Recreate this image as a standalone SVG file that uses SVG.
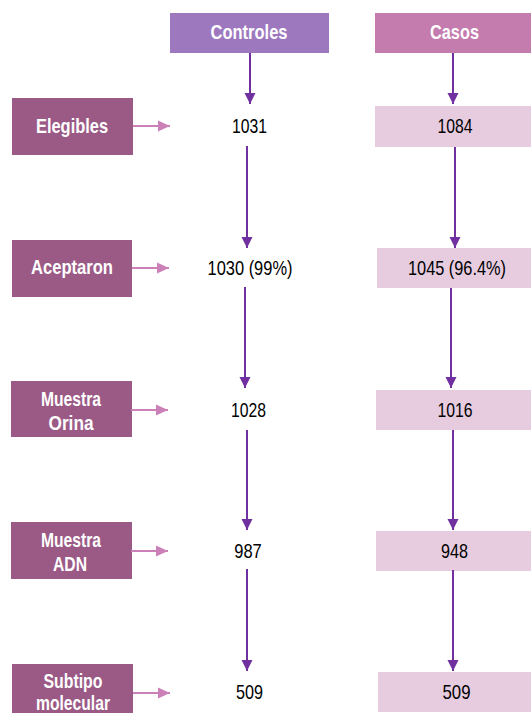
<svg xmlns="http://www.w3.org/2000/svg" width="531" height="713" viewBox="0 0 531 713">
<style>
.hc{fill:#9d78bf}.hp{fill:#c47bae}.lb{fill:#9b5a86}.rb{fill:#e7cce0}
.ht,.lt{font-family:"Liberation Sans",Arial,sans-serif;font-weight:bold;font-size:21px;fill:#fff;text-anchor:middle}
.nt{font-family:"Liberation Sans",Arial,sans-serif;font-size:21px;fill:#000;text-anchor:middle}
.pa{stroke:#7030a0;stroke-width:2;fill:none}
.ka{stroke:#cc80b8;stroke-width:2;fill:none}
</style>
<defs>
<marker id="mp" markerUnits="userSpaceOnUse" markerWidth="12" markerHeight="12" refX="11" refY="6" orient="auto"><path d="M0,0.5 L11,6 L0,11.5 Z" fill="#7030a0"/></marker>
<marker id="mk" markerUnits="userSpaceOnUse" markerWidth="13" markerHeight="12" refX="12" refY="6" orient="auto"><path d="M0,0.5 L12,6 L0,11.5 Z" fill="#cc80b8"/></marker>
</defs>
<g id="controles"><rect class="hc" x="170" y="13" width="159" height="40"/><text class="ht" x="249" y="39" textLength="77" lengthAdjust="spacingAndGlyphs">Controles</text></g>
<g id="casos"><rect class="hp" x="375" y="13" width="156" height="40"/><text class="ht" x="454.5" y="39" textLength="49" lengthAdjust="spacingAndGlyphs">Casos</text></g>
<g id="elegibles"><rect class="lb" x="12" y="98" width="121" height="57"/><text class="lt" x="72" y="133" textLength="72" lengthAdjust="spacingAndGlyphs">Elegibles</text></g>
<g id="aceptaron"><rect class="lb" x="12" y="240" width="120" height="57"/><text class="lt" x="72" y="274" textLength="82" lengthAdjust="spacingAndGlyphs">Aceptaron</text></g>
<g id="orina"><rect class="lb" x="11" y="381" width="121" height="56"/><text class="lt" x="71" y="406" textLength="60" lengthAdjust="spacingAndGlyphs">Muestra</text><text class="lt" x="71" y="430" textLength="45" lengthAdjust="spacingAndGlyphs">Orina</text></g>
<g id="adn"><rect class="lb" x="11" y="522" width="121" height="57"/><text class="lt" x="71" y="547" textLength="60" lengthAdjust="spacingAndGlyphs">Muestra</text><text class="lt" x="70" y="571" textLength="34" lengthAdjust="spacingAndGlyphs">ADN</text></g>
<g id="subtipo"><rect class="lb" x="12" y="664" width="121" height="50"/><text class="lt" x="73" y="688" textLength="59" lengthAdjust="spacingAndGlyphs">Subtipo</text><text class="lt" x="73" y="710" textLength="74" lengthAdjust="spacingAndGlyphs">molecular</text></g>
<g id="c1031"><text class="nt" x="249.5" y="133" textLength="35" lengthAdjust="spacingAndGlyphs">1031</text></g>
<g id="c1030"><text class="nt" x="250" y="275" textLength="85" lengthAdjust="spacingAndGlyphs">1030 (99%)</text></g>
<g id="c1028"><text class="nt" x="248.5" y="417" textLength="35" lengthAdjust="spacingAndGlyphs">1028</text></g>
<g id="c987"><text class="nt" x="248" y="558" textLength="27.5" lengthAdjust="spacingAndGlyphs">987</text></g>
<g id="c509"><text class="nt" x="249.5" y="699" textLength="27" lengthAdjust="spacingAndGlyphs">509</text></g>
<g id="k1084"><rect class="rb" x="375" y="106" width="156" height="41"/><text class="nt" x="455" y="133" textLength="35" lengthAdjust="spacingAndGlyphs">1084</text></g>
<g id="k1045"><rect class="rb" x="377" y="248" width="154" height="40"/><text class="nt" x="457" y="275" textLength="98" lengthAdjust="spacingAndGlyphs">1045 (96.4%)</text></g>
<g id="k1016"><rect class="rb" x="376" y="390" width="155" height="40"/><text class="nt" x="455" y="417" textLength="35" lengthAdjust="spacingAndGlyphs">1016</text></g>
<g id="k948"><rect class="rb" x="376" y="531" width="155" height="40"/><text class="nt" x="454.5" y="558" textLength="27" lengthAdjust="spacingAndGlyphs">948</text></g>
<g id="k509"><rect class="rb" x="378" y="672" width="153" height="40"/><text class="nt" x="456.5" y="699" textLength="28" lengthAdjust="spacingAndGlyphs">509</text></g>
<g id="connectors">
<line class="pa" x1="250" y1="53" x2="250" y2="104" marker-end="url(#mp)"/>
<line class="pa" x1="453" y1="53" x2="453" y2="104" marker-end="url(#mp)"/>
<line class="pa" x1="247" y1="146" x2="247" y2="248" marker-end="url(#mp)"/>
<line class="pa" x1="455" y1="147" x2="455" y2="248" marker-end="url(#mp)"/>
<line class="pa" x1="245" y1="287" x2="245" y2="388" marker-end="url(#mp)"/>
<line class="pa" x1="451" y1="288" x2="451" y2="388" marker-end="url(#mp)"/>
<line class="pa" x1="247" y1="430" x2="247" y2="530" marker-end="url(#mp)"/>
<line class="pa" x1="453" y1="430" x2="453" y2="530" marker-end="url(#mp)"/>
<line class="pa" x1="247" y1="569" x2="247" y2="671" marker-end="url(#mp)"/>
<line class="pa" x1="453" y1="570" x2="453" y2="671" marker-end="url(#mp)"/>
<line class="ka" x1="133" y1="126" x2="170" y2="126" marker-end="url(#mk)"/>
<line class="ka" x1="132" y1="268" x2="169" y2="268" marker-end="url(#mk)"/>
<line class="ka" x1="131" y1="410" x2="168" y2="410" marker-end="url(#mk)"/>
<line class="ka" x1="131" y1="551" x2="168" y2="551" marker-end="url(#mk)"/>
<line class="ka" x1="133" y1="693" x2="170" y2="693" marker-end="url(#mk)"/>
</g>
</svg>
